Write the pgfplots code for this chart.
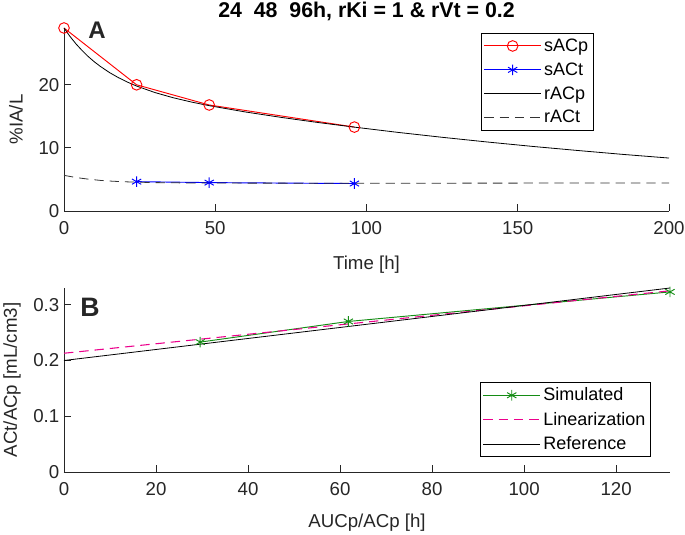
\documentclass[border=0pt]{standalone}
\usepackage{pgfplots}
\pgfplotsset{compat=1.18}
\usepackage{fontspec}
\setmainfont{Liberation Sans}
\definecolor{axgray}{gray}{0.15}
\definecolor{mgreen}{rgb}{0.08,0.55,0.08}
\pgfplotsset{
  every axis/.append style={
    scale only axis,
    axis x line*=bottom, axis y line*=left,
    axis line style={axgray, line width=0.6pt},
    tick style={axgray, line width=0.6pt},
    major tick length=5pt,
    tick align=inside,
    ticklabel style={text=axgray, font=\fontsize{14}{16}\selectfont},
    xticklabel style={yshift=-4pt},
    /pgf/number format/assume math mode=true,
    /pgf/number format/fixed,
    clip=false,
    legend cell align=left,
    legend style={draw=black, line width=0.6pt, fill=white, font=\fontsize{13.5}{16}\selectfont, inner sep=2pt, row sep=3pt},
    legend image code/.code={\draw[mark repeat=2,mark phase=2,#1] plot coordinates {(0cm,0cm) (0.75cm,0cm) (1.5cm,0cm)};},
  }
}
\begin{document}
\begin{tikzpicture}
\useasboundingbox (0,0) rectangle (513.75pt,401.25pt);
% ---------- Panel A ----------
\begin{axis}[
  at={(48pt,243pt)}, anchor=south west,
  width=453.75pt, height=137.25pt,
  xmin=0, xmax=200, ymin=0, ymax=29,
  xtick={0,50,100,150,200}, ytick={0,10,20},
  xlabel={Time [h]}, ylabel={\%IA/L},
  every axis x label/.style={at={(axis description cs:0.5,-0.295)}, anchor=center, text=axgray, font=\fontsize{14}{16}\selectfont},
  every axis y label/.style={at={(axis description cs:-0.0793,0.5)}, rotate=90, anchor=center, text=axgray, font=\fontsize{14}{16}\selectfont},
  title={\bfseries 24\ \ 48\ \ 96h, rKi = 1 \& rVt = 0.2},
  every axis title/.style={at={(axis description cs:0.5,1)}, anchor=base, yshift=8pt, font=\fontsize{16}{19}\selectfont, text=black},
  legend style={at={(axis description cs:0.876,0.973)}, anchor=north east},
]
\addplot[red, line width=0.7pt, mark=o, mark size=4pt, mark options={solid}] coordinates {(0,29.0) (24,20.0) (48,16.8) (96,13.3)};
\addlegendentry{sACp}
\addplot[blue, line width=0.7pt, mark=asterisk, mark size=4pt, mark options={solid}] coordinates {(24,4.65) (48,4.5) (96,4.35)};
\addlegendentry{sACt}
\addplot[black, line width=0.6pt] coordinates {
(0,29.0) (2,27.65) (4,26.46) (6,25.42) (8,24.48) (10,23.65) (12,22.92) (15,21.95) (18,21.13) (21,20.42) (24,19.80) (30,18.78) (36,17.96) (42,17.28) (48,16.69) (60,15.69) (72,14.82) (84,14.02) (96,13.29) (110,12.48) (125,11.68) (140,10.93) (155,10.23) (170,9.58) (185,8.96) (200,8.39)};
\addlegendentry{rACp}
\addplot[black!80, line width=0.6pt, dash pattern=on 7pt off 4.5pt] coordinates {
(0,5.65) (4,5.3) (8,5.05) (12,4.85) (16,4.72) (20,4.63) (24,4.57) (30,4.5) (40,4.45) (60,4.42) (96,4.4) (150,4.42) (200,4.45)};
\addlegendentry{rACt}
\node[font=\fontsize{18}{20}\selectfont\bfseries, text=axgray] at (axis description cs:0.0545,0.99) {A};
\end{axis}
% ---------- Panel B ----------
\begin{axis}[
  at={(48pt,47.25pt)}, anchor=south west,
  width=454.5pt, height=138pt,
  xmin=0, xmax=131.7, ymin=0, ymax=0.33,
  xtick={0,20,40,60,80,100,120}, ytick={0,0.1,0.2,0.3},
  yticklabels={0,0.1,0.2,0.3},
  xlabel={AUCp/ACp [h]}, ylabel={ACt/ACp [mL/cm3]},
  every axis x label/.style={at={(axis description cs:0.5,-0.277)}, anchor=center, text=axgray, font=\fontsize{14}{16}\selectfont},
  every axis y label/.style={at={(axis description cs:-0.0858,0.5)}, rotate=90, anchor=center, text=axgray, font=\fontsize{14}{16}\selectfont},
  legend style={at={(axis description cs:0.969,0.489)}, anchor=north east},
]
\addplot[mgreen, line width=0.7pt, mark=asterisk, mark size=4pt, mark options={solid}] coordinates {(29.6,0.233) (61.8,0.270) (131.7,0.323)};
\addlegendentry{Simulated}
\addplot[magenta, line width=0.8pt, dash pattern=on 7pt off 4.5pt] coordinates {(0,0.213) (131.7,0.325)};
\addlegendentry{Linearization}
\addplot[black, line width=0.6pt] coordinates {(0,0.200) (131.7,0.330)};
\addlegendentry{Reference}
\node[font=\fontsize{20}{22}\selectfont\bfseries, text=axgray] at (axis description cs:0.043,0.897) {B};
\end{axis}
\end{tikzpicture}
\end{document}
